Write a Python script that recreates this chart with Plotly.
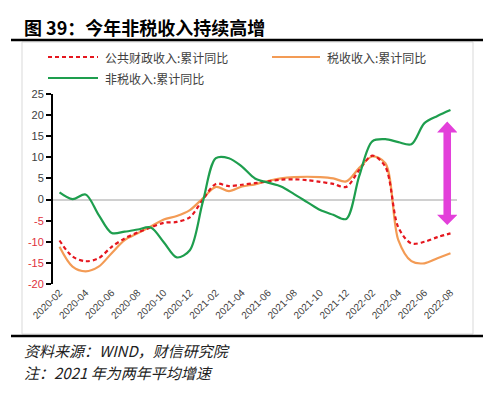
import plotly.graph_objects as go

# ---------------- data ----------------
months = [f"{y}-{m:02d}" for y, m in
          [(2020, m) for m in range(2, 13)] + [(2021, m) for m in range(1, 13)] + [(2022, m) for m in range(1, 9)]]

public_rev = [-9.7, -13.5, -14.6, -13.9, -11.2, -9.2, -7.8, -6.6, -5.5, -5.3, -4.2,
              0.0, 3.7, 3.2, 3.5, 3.9, 4.3, 4.7, 4.8, 4.6, 4.2, 3.7, 3.0,
              7.0, 10.4, 7.8, -6.6, -10.4, -10.0, -8.9, -8.0]
tax_rev = [-11.2, -15.9, -17.0, -15.9, -12.7, -9.6, -8.0, -6.4, -4.7, -3.9, -2.5,
           0.3, 3.0, 2.0, 3.1, 3.6, 4.4, 5.0, 5.3, 5.4, 5.3, 5.0, 4.3,
           7.5, 10.2, 8.6, -9.6, -14.6, -15.1, -13.9, -12.7]
nontax_rev = [1.7, 0.1, 1.2, -3.6, -7.9, -7.6, -7.1, -6.6, -10.1, -13.7, -12.0,
              -0.5, 9.8, 9.8, 7.8, 5.0, 4.0, 3.1, 1.3, -0.6, -2.5, -3.6, -4.6,
              5.6, 13.8, 14.3, 13.6, 13.1, 18.1, 19.8, 21.2]

series_names = ["公共财政收入:累计同比", "税收收入:累计同比", "非税收入:累计同比"]
y_ticks = [25, 20, 15, 10, 5, 0, -5, -10, -15, -20]
x_tick_idx = list(range(0, len(months), 2))
x_tick_labels = [months[i] for i in x_tick_idx]

title_text = "图 39：今年非税收入持续高增"
source_text = "资料来源：WIND，财信研究院"
note_text = "注：2021 年为两年平均增速"

# ---------------- styling ----------------
W, H = 500, 393
ML, MR, MT, MB = 53, 43, 94, 109
PW, PH = W - ML - MR, H - MT - MB

RED, ORANGE, GREEN = "#E5161E", "#F39B55", "#1E9E4E"
MAGENTA = "#E340DA"
NEG_COLOR = "#E0303C"
TXT = "#404040"
FONT = "Noto Sans CJK SC, Liberation Sans, sans-serif"


def px_x(px):
    return (px - ML) / PW


def px_y(py):
    return (H - MB - py) / PH


x_idx = list(range(len(months)))

fig = go.Figure()
fig.add_trace(go.Scatter(x=x_idx, y=tax_rev, name=series_names[1], mode="lines",
                         line=dict(color=ORANGE, width=2.2, shape="spline", smoothing=0.9)))
fig.add_trace(go.Scatter(x=x_idx, y=public_rev, name=series_names[0], mode="lines",
                         line=dict(color=RED, width=2.2, dash="4px,3px", shape="spline", smoothing=0.9)))
fig.add_trace(go.Scatter(x=x_idx, y=nontax_rev, name=series_names[2], mode="lines",
                         line=dict(color=GREEN, width=2.2, shape="spline", smoothing=0.9)))

ytext = [f"<span style='color:{NEG_COLOR}'>{v}</span>" if v < 0 else str(v) for v in y_ticks]

fig.update_layout(
    width=W, height=H,
    margin=dict(l=ML, r=MR, t=MT, b=MB),
    paper_bgcolor="white", plot_bgcolor="white",
    showlegend=False,
    font=dict(family=FONT, color=TXT),
    xaxis=dict(range=[-0.5, len(months) - 0.5], tickmode="array", tickvals=x_tick_idx,
               ticktext=x_tick_labels, tickangle=-45, showgrid=False, zeroline=False,
               showline=False, ticks="", tickfont=dict(size=10, color=TXT,
               family="Liberation Sans, Arial, sans-serif")),
    yaxis=dict(range=[-20, 25], tickmode="array", tickvals=y_ticks, ticktext=ytext,
               showgrid=False, zeroline=True, zerolinecolor="#D0D0D0", zerolinewidth=1.5,
               showline=True, linecolor="black", linewidth=2, ticks="outside", ticklen=5,
               tickwidth=1.5, tickcolor="black",
               tickfont=dict(size=11, color=TXT, family="Liberation Sans, Arial, sans-serif")),
)

shapes = []
# outer light frame of the chart
shapes.append(dict(type="rect", xref="paper", yref="paper", x0=px_x(22), x1=px_x(473),
                   y0=px_y(42), y1=px_y(334), line=dict(color="#D9D9D9", width=1)))
# black rules
for yy in (40, 336):
    shapes.append(dict(type="line", xref="paper", yref="paper", x0=px_x(11), x1=px_x(483),
                       y0=px_y(yy), y1=px_y(yy), line=dict(color="black", width=2.5)))
# legend samples
shapes.append(dict(type="line", xref="paper", yref="paper", x0=px_x(48), x1=px_x(98),
                   y0=px_y(57), y1=px_y(57), line=dict(color=RED, width=2.2, dash="4px,3px")))
shapes.append(dict(type="line", xref="paper", yref="paper", x0=px_x(272), x1=px_x(320),
                   y0=px_y(57), y1=px_y(57), line=dict(color=ORANGE, width=2.2)))
shapes.append(dict(type="line", xref="paper", yref="paper", x0=px_x(48), x1=px_x(98),
                   y0=px_y(78), y1=px_y(78), line=dict(color=GREEN, width=2.2)))

# double-headed arrow (data coordinates)
xc, hw, sw = 29.75, 0.78, 0.29
yt, ytb, ybb, yb = 18.5, 15.9, -3.6, -6.0
path = (f"M {xc},{yt} L {xc+hw},{ytb} L {xc+sw},{ytb} L {xc+sw},{ybb} L {xc+hw},{ybb} "
        f"L {xc},{yb} L {xc-hw},{ybb} L {xc-sw},{ybb} L {xc-sw},{ytb} L {xc-hw},{ytb} Z")
shapes.append(dict(type="path", xref="x", yref="y", path=path,
                   fillcolor=MAGENTA, line=dict(color=MAGENTA, width=0)))
fig.update_layout(shapes=shapes)

ann = []
ann.append(dict(xref="paper", yref="paper", x=px_x(22), y=px_y(27), xanchor="left", yanchor="middle",
                text=f"<b>{title_text}</b>", showarrow=False,
                font=dict(size=18, color="black", family=FONT)))
ann.append(dict(xref="paper", yref="paper", x=px_x(103), y=px_y(57), xanchor="left", yanchor="middle",
                text=series_names[0], showarrow=False, font=dict(size=12, color=TXT, family=FONT)))
ann.append(dict(xref="paper", yref="paper", x=px_x(325), y=px_y(57), xanchor="left", yanchor="middle",
                text=series_names[1], showarrow=False, font=dict(size=12, color=TXT, family=FONT)))
ann.append(dict(xref="paper", yref="paper", x=px_x(103), y=px_y(78), xanchor="left", yanchor="middle",
                text=series_names[2], showarrow=False, font=dict(size=12, color=TXT, family=FONT)))
ann.append(dict(xref="paper", yref="paper", x=px_x(22), y=px_y(350), xanchor="left", yanchor="middle",
                text=f"<i>{source_text}</i>", showarrow=False, font=dict(size=15, color="#222", family=FONT)))
ann.append(dict(xref="paper", yref="paper", x=px_x(22), y=px_y(372), xanchor="left", yanchor="middle",
                text=f"<i>{note_text}</i>", showarrow=False, font=dict(size=15, color="#222", family=FONT)))
fig.update_layout(annotations=ann)

fig.write_html("out.html", config={"displayModeBar": False},
               post_script="document.body.style.margin='0';")
